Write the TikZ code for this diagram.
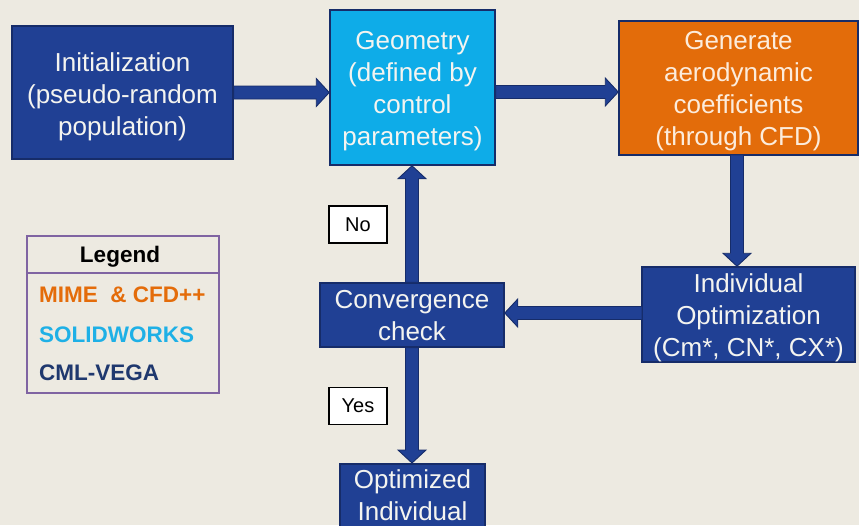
\documentclass[tikz,border=0pt]{standalone}
\usepackage{fontspec}
\setmainfont{Liberation Sans}
\usetikzlibrary{calc}
\definecolor{bg}{RGB}{237,234,225}
\definecolor{navy}{RGB}{32,64,148}
\definecolor{navyline}{RGB}{22,44,105}
\definecolor{sky}{RGB}{14,172,232}
\definecolor{orng}{RGB}{227,108,10}
\definecolor{legpurple}{RGB}{128,100,162}
\definecolor{txtwhite}{RGB}{244,244,240}
\definecolor{cream}{RGB}{252,236,220}
\definecolor{legnavy}{RGB}{31,56,110}
\definecolor{legorange}{RGB}{228,108,10}
\definecolor{legsky}{RGB}{30,176,230}
\begin{document}
\begin{tikzpicture}[x=1pt,y=-1pt,
  box/.style={draw=navyline, line width=1.5pt, fill=navy, inner sep=0pt},
  boxtext/.style={text=txtwhite, align=center, font=\fontsize{26}{32}\selectfont, inner sep=0pt},
  fat/.style={draw=navyline, line width=0.9pt, fill=navy, line join=miter, to path={
    ($(\tikztostart)!6.5pt!90:(\tikztotarget)$)
    -- ($($(\tikztotarget)!13pt!(\tikztostart)$)!6.5pt!-90:(\tikztostart)$)
    -- ($($(\tikztotarget)!13pt!(\tikztostart)$)!14pt!-90:(\tikztostart)$)
    -- (\tikztotarget)
    -- ($($(\tikztotarget)!13pt!(\tikztostart)$)!14pt!90:(\tikztostart)$)
    -- ($($(\tikztotarget)!13pt!(\tikztostart)$)!6.5pt!90:(\tikztostart)$)
    -- ($(\tikztostart)!6.5pt!-90:(\tikztotarget)$)
    -- cycle}},
  tag/.style={draw=black, line width=1.8pt, fill=white, font=\fontsize{20}{24}\selectfont,
    inner sep=0pt, minimum width=58pt, minimum height=37pt},
  legitem/.style={anchor=west, font=\fontsize{22.5}{24}\selectfont\bfseries, inner sep=0pt},
]
\fill[bg] (0,0) rectangle (859,525);
\clip (0,0) rectangle (859,525);

% boxes
\node[box, minimum width=221pt, minimum height=133pt] (init) at (122.5,92.5) {};
\node[boxtext] (initt) at (122.5,96.5) {Initialization\\(pseudo-random\\population)};
\node[box, fill=sky, minimum width=165pt, minimum height=155pt] (geom) at (412.5,87.5) {};
\node[boxtext] (geomt) at (412.5,91) {Geometry\\(defined by\\control\\parameters)};
\node[box, fill=orng, minimum width=239pt, minimum height=134pt] (gen) at (738.5,88) {};
\node[boxtext, text=cream] (gent) at (738.5,91.5) {Generate\\aerodynamic\\coefficients\\(through CFD)};
\node[box, minimum width=213pt, minimum height=95pt] (indiv) at (748.5,314.5) {};
\node[boxtext] (indivt) at (748.5,318) {Individual\\Optimization\\(Cm*, CN*, CX*)};
\node[box, minimum width=184pt, minimum height=64pt] (conv) at (412,315) {};
\node[boxtext] (convt) at (412,316) {Convergence\\check};
\node[box, minimum width=145pt, minimum height=76pt, anchor=north] (opt) at (412.5,463) {};
\node[boxtext] (optt) at (412.5,495.5) {Optimized\\Individual};

% labels
\node[tag] (no) at (358,224.5) {No};
\node[tag] (yes) at (358,406) {Yes};

% arrows
\coordinate (a1) at (init.east |- 0,92.5);
\draw[fat] (a1) to (a1 -| geom.west);
\coordinate (a2) at (geom.east |- 0,92);
\draw[fat] (a2) to (a2 -| gen.west);
\coordinate (gbot) at (737,155);
\draw[fat] (gbot) to (gbot |- indiv.north);
\coordinate (iw) at (642,313);
\draw[fat] (iw) to (iw -| conv.east);
\draw[fat] (conv.north) to (conv.north |- geom.south);
\draw[fat] (conv.south) to (conv.south |- opt.north);

% legend
\node[draw=legpurple, line width=2.2pt, fill=bg, minimum width=192pt, minimum height=157pt,
  inner sep=0pt] (legend) at (123,314.5) {};
\draw[legpurple, line width=2.2pt] (legend.west |- 0,273) -- (legend.east |- 0,273);
\node[font=\fontsize{22.5}{24}\selectfont\bfseries, inner sep=0pt] (legtitle) at (120,257) {Legend};
\node[legitem, text=legorange] (l1) at (39,295) {MIME\ \ \& CFD++};
\node[legitem, text=legsky] (l2) at (39,335) {SOLIDWORKS};
\node[legitem, text=legnavy] (l3) at (39,373) {CML-VEGA};
\end{tikzpicture}
\end{document}
